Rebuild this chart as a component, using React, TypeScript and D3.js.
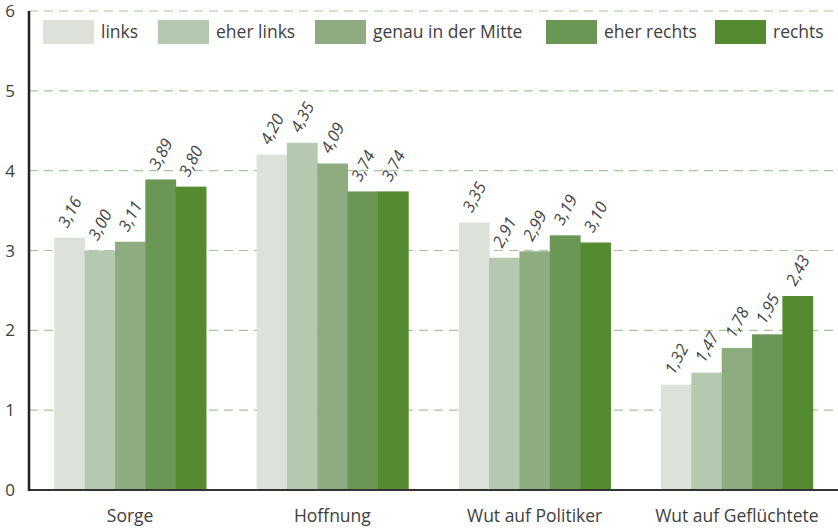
import React from "react";
import * as d3 from "d3";

const categories = ["Sorge", "Hoffnung", "Wut auf Politiker", "Wut auf Geflüchtete"];
const seriesNames = ["links", "eher links", "genau in der Mitte", "eher rechts", "rechts"];
const seriesColors = ["#dce1da", "#b5c9b1", "#8fac80", "#6a9656", "#548a30"];
const links = [3.16, 4.2, 3.35, 1.32];
const eherLinks = [3.0, 4.35, 2.91, 1.47];
const mitte = [3.11, 4.09, 2.99, 1.78];
const eherRechts = [3.89, 3.74, 3.19, 1.95];
const rechts = [3.8, 3.74, 3.1, 2.43];
const yTicks = [0, 1, 2, 3, 4, 5, 6];
const legendX = [43, 158, 315, 546, 715];

const W = 838;
const H = 529;
const FONT = "'Open Sans', 'Noto Sans', sans-serif";

export default function App() {
  const series = [links, eherLinks, mitte, eherRechts, rechts];
  const left = 29;
  const right = 838;
  const y = d3.scaleLinear().domain([0, 6]).range([490, 11]);
  const x0 = d3.scaleBand<string>().domain(categories).range([left, right]).paddingInner(0.25).paddingOuter(0.125);
  const x1 = d3.scaleBand<number>().domain(d3.range(seriesNames.length)).range([0, x0.bandwidth()]);
  const fmt = (v: number) => v.toFixed(2).replace(".", ",");

  return (
    <div style={{ position: "absolute", left: 0, top: 0 }}>
      <svg width={W} height={H} style={{ display: "block", fontFamily: FONT }}>
        <rect x={0} y={0} width={W} height={H} fill="#fff" />
        {yTicks.filter((t) => t > 0).map((t) => (
          <line key={t} x1={left} x2={right} y1={y(t)} y2={y(t)} stroke="#a9c49c" strokeWidth={1.2} strokeDasharray="9,6" />
        ))}
        {yTicks.map((t) => (
          <text key={t} x={10} y={y(t) + 6} fontSize={17} fill="#404040" textAnchor="middle">{t}</text>
        ))}
        {categories.map((c, ci) => (
          <g key={c}>
            {series.map((s, si) => {
              const bx = (x0(c) as number) + (x1(si) as number);
              const bw = x1.bandwidth();
              const top = y(s[ci]);
              const cx = bx + bw / 2 - 2;
              const ty = top - 9;
              return (
                <g key={si}>
                  <rect x={bx} y={top} width={bw + 0.5} height={y(0) - top} fill={seriesColors[si]} />
                  <text x={cx} y={ty} transform={`rotate(-62 ${cx} ${ty})`} fontSize={16.5} fontStyle="italic" fill="#444">{fmt(s[ci])}</text>
                </g>
              );
            })}
            <text x={(x0(c) as number) + x0.bandwidth() / 2} y={522} fontSize={17.5} fill="#404040" textAnchor="middle">{c}</text>
          </g>
        ))}
        <line x1={left} x2={right} y1={490} y2={490} stroke="#333" strokeWidth={2} />
        <line x1={left} x2={left} y1={11} y2={491} stroke="#231f20" strokeWidth={2.5} />
        {seriesNames.map((n, i) => (
          <g key={n}>
            <rect x={legendX[i]} y={20} width={51} height={24} fill={seriesColors[i]} />
            <text x={legendX[i] + 58} y={38} fontSize={17.5} fill="#404040">{n}</text>
          </g>
        ))}
      </svg>
    </div>
  );
}
